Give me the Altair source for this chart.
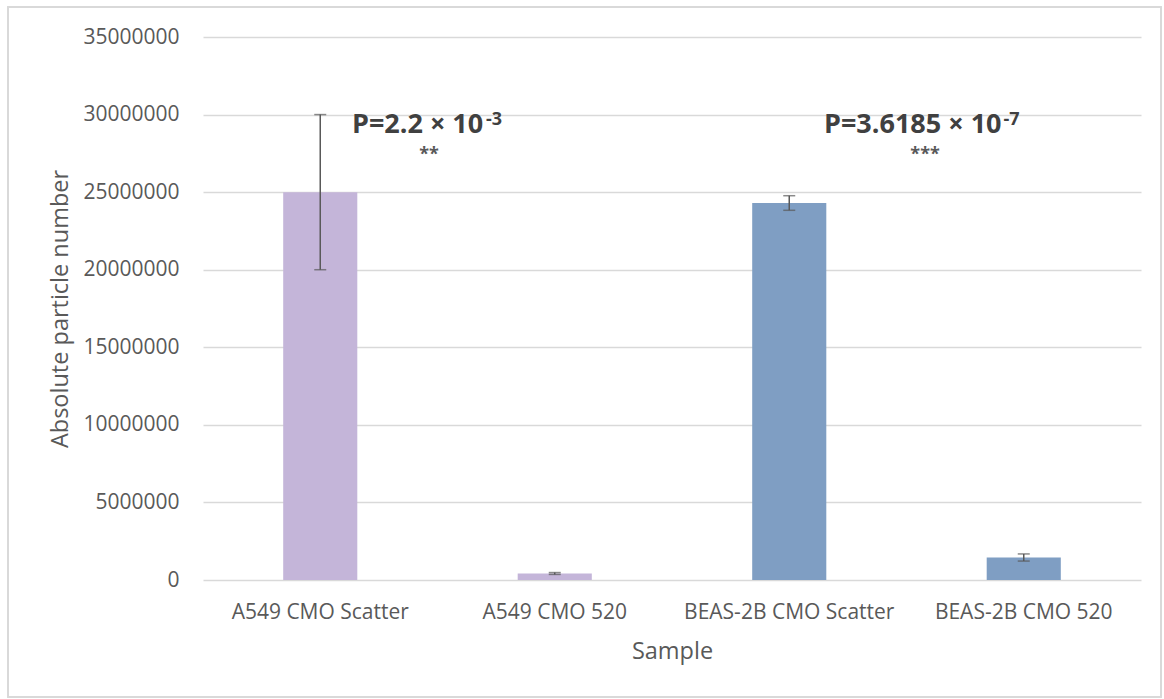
import altair as alt
import pandas as pd

# ---- data ----
samples = ["A549 CMO Scatter", "A549 CMO 520", "BEAS-2B CMO Scatter", "BEAS-2B CMO 520"]
means = [25000000, 420000, 24300000, 1450000]
errors = [5000000, 60000, 470000, 230000]
groups = ["A549", "A549", "BEAS-2B", "BEAS-2B"]
y_ticks = [0, 5000000, 10000000, 15000000, 20000000, 25000000, 30000000, 35000000]

p_labels = ["P=2.2 × 10", "P=3.6185 × 10"]
p_exponents = ["-3", "-7"]
star_labels = ["**", "***"]
anchors = ["A549 CMO Scatter", "BEAS-2B CMO Scatter"]

# ---- styling ----
FONT = "Open Sans"
TXT = "#595959"
GRID = "#d9d9d9"
W, H = 938, 543
PAD_L, PAD_T, PAD_R, PAD_B = 203, 37, 23, 119

df = pd.DataFrame({"Sample": samples, "Mean": means, "Err": errors, "Group": groups})
df["Low"] = df["Mean"] - df["Err"]
df["High"] = df["Mean"] + df["Err"]

ann = pd.DataFrame({"Sample": anchors, "P": p_labels, "Exp": p_exponents, "Stars": star_labels})

xscale = alt.Scale(domain=samples, paddingInner=0.684, paddingOuter=0.342)
yscale = alt.Scale(domain=[0, 35000000], nice=False)
YT = "Absolute particle number"

x_axis = alt.Axis(labelAngle=0, ticks=False, tickSize=0, domain=False, grid=False,
                  labelPadding=21, titlePadding=17, labelFontSize=21, titleFontSize=23.5,
                  labelLimit=0,
                  labelColor=TXT, titleColor=TXT, labelFont=FONT, titleFont=FONT,
                  titleFontWeight="normal")
y_axis = alt.Axis(values=y_ticks, format="d", ticks=False, tickSize=0, domain=False,
                  grid=True, gridColor=GRID, gridWidth=1.3,
                  labelPadding=24, labelFontSize=21, titleFontSize=23.5,
                  labelColor=TXT, titleColor=TXT, labelFont=FONT, titleFont=FONT,
                  titleFontWeight="normal", titleAngle=-90, titleX=-136, titleY=H / 2,
                  titleAlign="center", titleBaseline="alphabetic")


def X():
    return alt.X("Sample:N", sort=samples, scale=xscale, title="Sample", axis=x_axis)


def Y(field):
    return alt.Y(f"{field}:Q", scale=yscale, title=YT, axis=y_axis)


border = alt.Chart(df).mark_rect(fill=None, stroke=GRID, strokeWidth=1.3).encode(
    x=alt.value(8 - PAD_L), x2=alt.value(1161 - PAD_L),
    y=alt.value(7 - PAD_T), y2=alt.value(697 - PAD_T),
)

bars = alt.Chart(df).mark_bar().encode(
    x=X(),
    y=Y("Mean"),
    color=alt.Color("Group:N", scale=alt.Scale(domain=["A549", "BEAS-2B"],
                                                range=["#C4B5D9", "#7F9EC3"]), legend=None),
)

err_rule = alt.Chart(df).mark_rule(color="#595959", strokeWidth=1.5).encode(
    x=X(), y=Y("Low"), y2="High:Q",
)
cap_lo = alt.Chart(df).mark_tick(color="#595959", thickness=1.5, size=12, orient="horizontal").encode(
    x=X(), y=Y("Low"),
)
cap_hi = alt.Chart(df).mark_tick(color="#595959", thickness=1.5, size=12, orient="horizontal").encode(
    x=X(), y=Y("High"),
)

main_dx = [163, 212.3]
exp_dx = [165.8, 214.3]
star_dx = [108.8, 135.8]

ann_layers = []
for i in range(len(anchors)):
    sub = ann.iloc[[i]]
    ann_layers.append(
        alt.Chart(sub).mark_text(font=FONT, fontSize=27, fontWeight="bold", color="#404040",
                                 align="right", baseline="alphabetic", dx=main_dx[i]).encode(
            x=X(), y=alt.value(133.3 - PAD_T), text="P:N")
    )
    ann_layers.append(
        alt.Chart(sub).mark_text(font=FONT, fontSize=18, fontWeight="bold", color="#404040",
                                 align="left", baseline="alphabetic", dx=exp_dx[i]).encode(
            x=X(), y=alt.value(125 - PAD_T), text="Exp:N")
    )
    ann_layers.append(
        alt.Chart(sub).mark_text(font=FONT, fontSize=18, fontWeight="bold", color=TXT,
                                 align="center", baseline="alphabetic", dx=star_dx[i]).encode(
            x=X(), y=alt.value(159.6 - PAD_T), text="Stars:N")
    )

chart = alt.layer(border, bars, err_rule, cap_lo, cap_hi, *ann_layers).properties(
    width=W, height=H,
    autosize=alt.AutoSizeParams(type="none"),
    padding={"left": PAD_L, "top": PAD_T, "right": PAD_R, "bottom": PAD_B},
    background="white",
).configure_view(stroke=None)

chart.save("out.html", embed_options={"renderer": "svg", "actions": False})
